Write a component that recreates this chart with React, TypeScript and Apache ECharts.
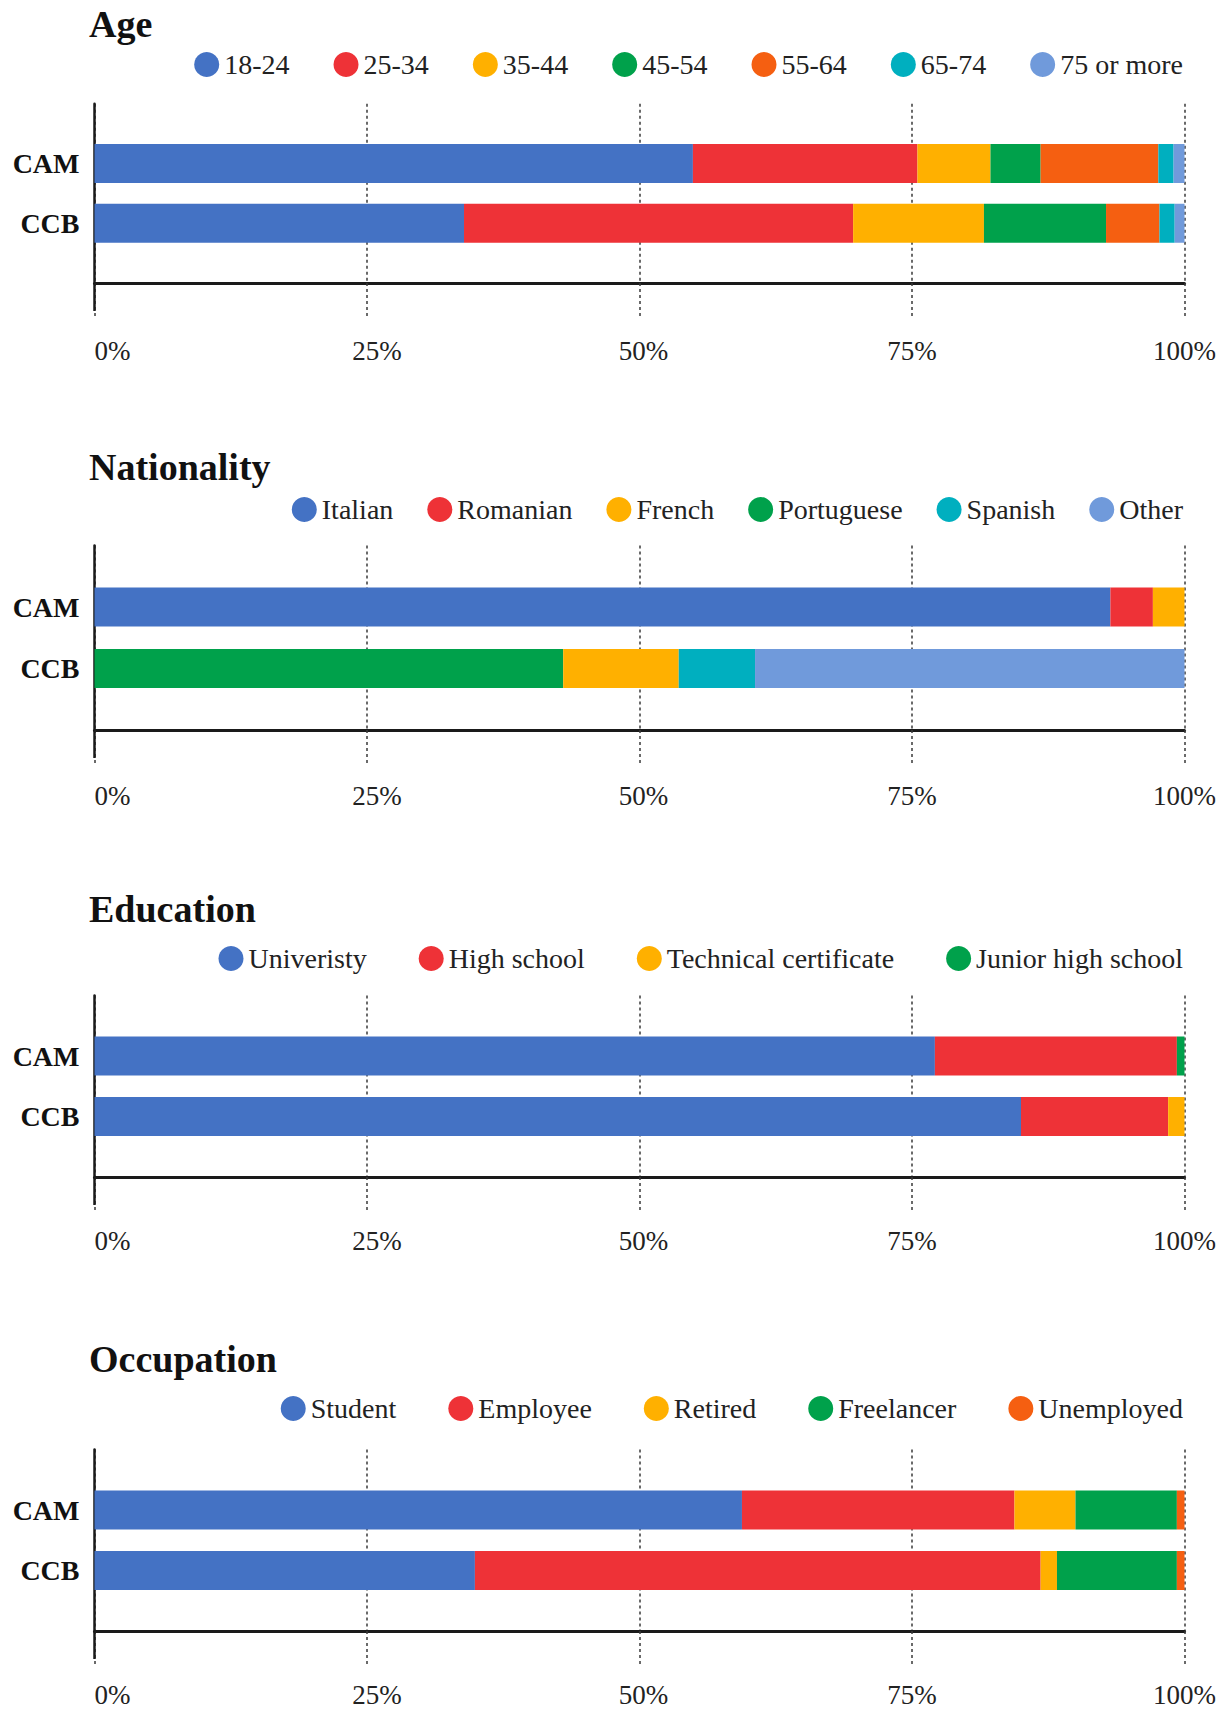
import React, { useEffect, useRef } from "react";
import * as echarts from "echarts";

// ---------- DATA ----------
const categories = ["CAM", "CCB"];

const ageTitle = "Age";
const ageGroups = ["18-24", "25-34", "35-44", "45-54", "55-64", "65-74", "75 or more"];
const ageCAM = [54.9, 20.6, 6.7, 4.6, 10.8, 1.4, 1.0];
const ageCCB = [33.9, 35.7, 12.0, 11.2, 4.9, 1.4, 0.9];

const natTitle = "Nationality";
const natGroups = ["Italian", "Romanian", "French", "Portuguese", "Spanish", "Other"];
const natStackOrder = ["Italian", "Romanian", "Portuguese", "French", "Spanish", "Other"];
const natCAM = [93.2, 3.9, 2.9, 0, 0, 0];
const natCCB = [0, 0, 10.6, 43.0, 7.0, 39.4];

const eduTitle = "Education";
const eduGroups = ["Univeristy", "High school", "Technical certificate", "Junior high school"];
const eduCAM = [77.1, 22.2, 0, 0.7];
const eduCCB = [85.0, 13.5, 1.5, 0];

const occTitle = "Occupation";
const occGroups = ["Student", "Employee", "Retired", "Freelancer", "Unemployed"];
const occCAM = [59.4, 25.0, 5.6, 9.3, 0.7];
const occCCB = [34.9, 51.9, 1.5, 11.0, 0.7];

const xTicks = [0, 25, 50, 75, 100];

// ---------- STYLE ----------
const W = 1229;
const H = 1711;
const FONT = "'Liberation Serif', 'Times New Roman', serif";
const C = {
  blue: "#4472C4",
  red: "#EE3237",
  yellow: "#FFB000",
  green: "#00A14B",
  orange: "#F55F11",
  teal: "#00AFBF",
  light: "#709ADB",
};
const ageColors = [C.blue, C.red, C.yellow, C.green, C.orange, C.teal, C.light];
const natColors = [C.blue, C.red, C.yellow, C.green, C.teal, C.light];
const eduColors = [C.blue, C.red, C.yellow, C.green];
const occColors = [C.blue, C.red, C.yellow, C.green, C.orange];

// small horizontal nudges of tick labels (px), as in the reference
const labelShift: Record<number, number> = { 25: 10, 50: 4 };

type Panel = {
  title: string;
  groups: string[];
  order: string[];
  cam: number[];
  ccb: number[];
  colors: string[];
  titleBase: number;
  legendC: number;
  camY: number;
  axisY: number;
  labelMargin: number;
  gap: number;
};

const panels: Panel[] = [
  { title: ageTitle, groups: ageGroups, order: ageGroups, cam: ageCAM, ccb: ageCCB, colors: ageColors,
    titleBase: 37, legendC: 63, camY: 163.5, axisY: 283, labelMargin: 54, gap: 44 },
  { title: natTitle, groups: natGroups, order: natStackOrder, cam: natCAM, ccb: natCCB, colors: natColors,
    titleBase: 480, legendC: 508, camY: 607, axisY: 730, labelMargin: 52, gap: 34 },
  { title: eduTitle, groups: eduGroups, order: eduGroups, cam: eduCAM, ccb: eduCCB, colors: eduColors,
    titleBase: 922, legendC: 957, camY: 1056, axisY: 1177, labelMargin: 50, gap: 52 },
  { title: occTitle, groups: occGroups, order: occGroups, cam: occCAM, ccb: occCCB, colors: occColors,
    titleBase: 1372, legendC: 1407, camY: 1510, axisY: 1631, labelMargin: 50, gap: 52 },
];

function buildOption() {
  const title: any[] = [];
  const legend: any[] = [];
  const grid: any[] = [];
  const xAxis: any[] = [];
  const yAxis: any[] = [];
  const series: any[] = [];
  const gridLine = { color: "#3a3a3a", width: 1.5, type: [3, 3] };
  const labelText = { fontFamily: FONT, fontSize: 27, color: "#222" };

  panels.forEach((p, i) => {
    const step = (p.axisY - p.camY) / 2;
    title.push({
      text: p.title,
      left: 89,
      top: p.titleBase - 32,
      padding: 0,
      textStyle: { fontFamily: FONT, fontWeight: "bold", fontSize: 38, color: "#111" },
    });
    legend.push({
      data: p.groups,
      right: 46,
      top: p.legendC - 12.5,
      padding: 0,
      icon: "circle",
      itemWidth: 25,
      itemHeight: 25,
      itemGap: p.gap,
      selectedMode: false,
      textStyle: { fontFamily: FONT, fontSize: 28, color: "#222" },
    });
    grid.push({
      left: 94.5,
      right: 44.5,
      top: p.camY - step,
      bottom: H - p.axisY,
      containLabel: false,
    });
    xAxis.push({
      type: "value",
      gridIndex: i,
      min: xTicks[0],
      max: xTicks[xTicks.length - 1],
      interval: xTicks[1] - xTicks[0],
      position: "bottom",
      axisLine: { show: true, lineStyle: { color: "#1a1a1a", width: 3 } },
      axisTick: { show: true, length: 35, lineStyle: gridLine },
      splitLine: { show: true, lineStyle: gridLine },
      axisLabel: {
        formatter: (v: number) => (labelShift[v] ? `{s${v}|${v}%}` : `${v}%`),
        margin: p.labelMargin,
        ...labelText,
        alignMinLabel: "left",
        rich: {
          s25: { ...labelText, padding: [0, 0, 0, 2 * labelShift[25]] },
          s50: { ...labelText, padding: [0, 0, 0, 2 * labelShift[50]] },
        },
      },
    });
    xAxis.push({
      type: "category",
      gridIndex: i,
      data: ["", ""],
      boundaryGap: false,
      position: "bottom",
      axisLine: { show: false },
      axisLabel: { show: false },
      splitLine: { show: false },
      axisTick: {
        show: true,
        length: 28,
        interval: (idx: number) => idx === 0,
        lineStyle: { color: "#1a1a1a", width: 2.5 },
      },
    });
    yAxis.push({
      type: "category",
      gridIndex: i,
      data: ["", ...categories, ""],
      inverse: true,
      boundaryGap: false,
      axisLine: { show: true, lineStyle: { color: "#1a1a1a", width: 2.5 } },
      axisTick: { show: false },
      splitLine: { show: false },
      axisLabel: {
        interval: 0,
        margin: 15,
        fontFamily: FONT,
        fontWeight: "bold",
        fontSize: 28,
        color: "#111",
      },
    });
    p.order.forEach((name) => {
      const k = p.groups.indexOf(name);
      series.push({
        type: "bar",
        name,
        stack: "panel" + i,
        xAxisIndex: 2 * i,
        yAxisIndex: i,
        barWidth: 39,
        silent: true,
        itemStyle: { color: p.colors[k] },
        data: ["-", p.cam[k], p.ccb[k], "-"],
      });
    });
  });

  return {
    animation: false,
    backgroundColor: "#ffffff",
    title,
    legend,
    grid,
    xAxis,
    yAxis,
    series,
  };
}

export default function App() {
  const ref = useRef<HTMLDivElement>(null);
  useEffect(() => {
    document.body.style.margin = "0";
    const chart = echarts.init(ref.current as HTMLDivElement, null, { renderer: "svg" });
    chart.setOption(buildOption() as any);
    return () => chart.dispose();
  }, []);
  return <div ref={ref} style={{ width: W, height: H }} />;
}
